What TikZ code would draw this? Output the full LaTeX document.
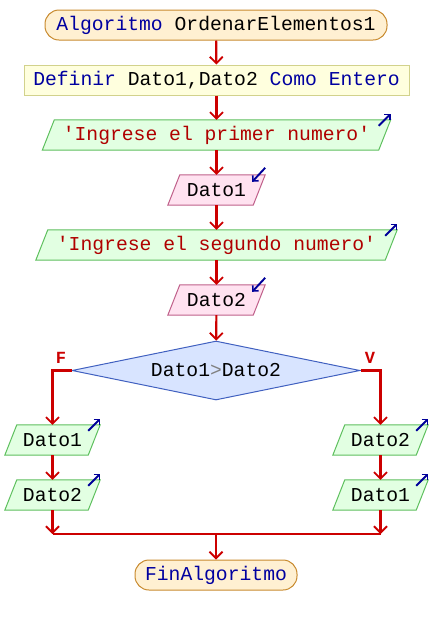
\documentclass[tikz,border=0pt]{standalone}
\usepackage{fontspec}
\setmonofont{Liberation Mono}
\usetikzlibrary{arrows.meta,shapes.geometric,backgrounds}
\definecolor{kw}{HTML}{0000A0}
\definecolor{str}{HTML}{B00000}
\definecolor{flow}{HTML}{CC0000}
\definecolor{icon}{HTML}{000099}
\definecolor{termfill}{HTML}{FFF0D2}
\definecolor{termdraw}{HTML}{C88A2E}
\definecolor{deffill}{HTML}{FFFFDE}
\definecolor{defdraw}{HTML}{D2D28C}
\definecolor{outfill}{HTML}{E2FFE2}
\definecolor{outdraw}{HTML}{5EC05E}
\definecolor{infill}{HTML}{FFE2F0}
\definecolor{indraw}{HTML}{C0608A}
\definecolor{decfill}{HTML}{D8E4FF}
\definecolor{decdraw}{HTML}{4060C0}
\newcommand\pgramshape[3]{\path[fill=#2,draw=#3,line width=1pt]
  ([xshift=-6pt]#1.south west) -- ([xshift=6pt]#1.north west) --
  ([xshift=6pt]#1.north east) -- ([xshift=-6pt]#1.south east) -- cycle;}
\newcommand\outicon[1]{\draw[iconarr] ([shift={(-6pt,-6pt)}]#1.north east) -- ([shift={(6pt,6pt)}]#1.north east);}
\newcommand\inicon[1]{\draw[iconarr] ([shift={(6pt,7pt)}]#1.north east) -- ([shift={(-7pt,-7pt)}]#1.north east);}
\begin{document}
\begin{tikzpicture}[x=1pt,y=-1pt,
  every node/.style={font=\ttfamily\fontsize{19.7}{22}\selectfont, inner sep=0pt},
  term/.style={rectangle, rounded corners=14pt, fill=termfill, draw=termdraw, line width=1pt, minimum height=30pt},
  defbox/.style={rectangle, fill=deffill, draw=defdraw, line width=1pt, minimum height=30pt},
  pbox/.style={rectangle, minimum height=30pt},
  dec/.style={diamond, aspect=4.88, fill=decfill, draw=decdraw, line width=1pt, minimum width=288pt, minimum height=59pt},
  arr/.style={draw=flow, line width=2.2pt, -{Straight Barb[length=6.5pt,width=13pt,line width=1.8pt]}},
  line/.style={draw=flow, line width=2.2pt},
  iconarr/.style={draw=icon, line width=1.9pt, -{Straight Barb[length=4pt,width=8pt,line width=1.6pt]}},
  lbl/.style={text=flow, font=\ttfamily\bfseries\fontsize{17}{19}\selectfont}
]
\useasboundingbox (0,0) rectangle (432,625);

\node[term, minimum width=342pt] (start) at (216,25) {\textcolor{kw}{Algoritmo} OrdenarElementos1};
\node[defbox, minimum width=385pt] (def) at (216.5,80) {\textcolor{kw}{Definir} Dato1,Dato2 \textcolor{kw}{Como Entero}};
\node[pbox, minimum width=336pt] (o1) at (216.5,135) {\textcolor{str}{'Ingrese el primer numero'}};
\node[pbox, minimum width=85pt] (i1) at (216.5,190) {Dato1};
\node[pbox, minimum width=349pt] (o2) at (216.5,245) {\textcolor{str}{'Ingrese el segundo numero'}};
\node[pbox, minimum width=85pt] (i2) at (216.5,300) {Dato2};
\node[dec] (d) at (216,370.5) {Dato1\textcolor{gray}{>}Dato2};
\node[pbox, minimum width=83pt] (l1) at (52.5,440) {Dato1};
\node[pbox, minimum width=83pt] (l2) at (52.5,495) {Dato2};
\node[pbox, minimum width=83pt] (r1) at (380.5,440) {Dato2};
\node[pbox, minimum width=83pt] (r2) at (380.5,495) {Dato1};
\node[term, minimum width=162pt] (fin) at (216,575) {\textcolor{kw}{FinAlgoritmo}};

\begin{scope}[on background layer]
\pgramshape{o1}{outfill}{outdraw}
\pgramshape{i1}{infill}{indraw}
\pgramshape{o2}{outfill}{outdraw}
\pgramshape{i2}{infill}{indraw}
\pgramshape{l1}{outfill}{outdraw}
\pgramshape{l2}{outfill}{outdraw}
\pgramshape{r1}{outfill}{outdraw}
\pgramshape{r2}{outfill}{outdraw}
\end{scope}

\outicon{o1}
\inicon{i1}
\outicon{o2}
\inicon{i2}
\outicon{l1}
\outicon{l2}
\outicon{r1}
\outicon{r2}

\draw[arr] (start) -- (def);
\draw[arr] (def) -- (o1);
\draw[arr] (o1) -- (i1);
\draw[arr] (i1) -- (o2);
\draw[arr] (o2) -- (i2);
\draw[arr] (i2) -- (d);
\draw[arr] (d.west) -| (l1.north);
\draw[arr] (d.east) -| (r1.north);
\node[lbl] (fl) at (61,358) {F};
\node[lbl] (vl) at (370,358) {V};
\draw[arr] (l1) -- (l2);
\draw[arr] (r1) -- (r2);
\coordinate (jl) at (52.5,534);
\coordinate (jr) at (380.5,534);
\coordinate (jm) at (216,534);
\draw[arr] (l2) -- (jl);
\draw[arr] (r2) -- (jr);
\draw[line] (jl) -- (jr);
\draw[arr] (jm) -- (fin);
\end{tikzpicture}
\end{document}
